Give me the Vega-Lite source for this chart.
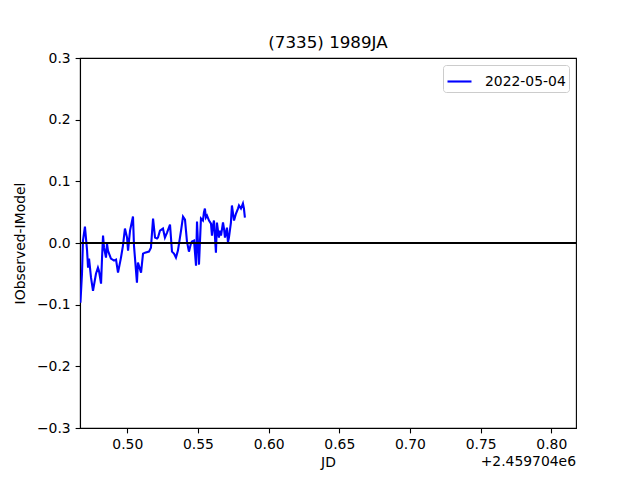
{
  "$schema": "https://vega.github.io/schema/vega-lite/v6.json",
  "autosize": {"type": "none"},
  "width": 496,
  "height": 370,
  "padding": {"left": 80, "top": 58, "right": 64, "bottom": 52},
  "background": "white",
  "title": {"text": "(7335) 1989JA", "font": "DejaVu Sans", "fontSize": 16.7, "fontWeight": "normal", "color": "black", "offset": -1},
  "config": {
    "view": {"stroke": "black", "strokeWidth": 1.1},
    "font": "DejaVu Sans",
    "axis": {
      "labelFont": "DejaVu Sans", "labelFontSize": 13.9, "labelColor": "black",
      "titleFont": "DejaVu Sans", "titleFontSize": 13.9, "titleFontWeight": "normal", "titleColor": "black",
      "domainColor": "black", "domainWidth": 1.1, "tickColor": "black", "tickWidth": 1.1, "tickSize": 4.9,
      "labelPadding": 4.9, "grid": false
    }
  },
  "datasets": {
    "obs": [
      {"jd": 0.4668, "resid": -0.097, "date": "2022-05-04"},
      {"jd": 0.4679, "resid": -0.0498, "date": "2022-05-04"},
      {"jd": 0.4686, "resid": 0.0039, "date": "2022-05-04"},
      {"jd": 0.4700, "resid": 0.0267, "date": "2022-05-04"},
      {"jd": 0.4715, "resid": -0.0124, "date": "2022-05-04"},
      {"jd": 0.4722, "resid": -0.0400, "date": "2022-05-04"},
      {"jd": 0.4729, "resid": -0.0254, "date": "2022-05-04"},
      {"jd": 0.4743, "resid": -0.0563, "date": "2022-05-04"},
      {"jd": 0.4757, "resid": -0.0774, "date": "2022-05-04"},
      {"jd": 0.4778, "resid": -0.0498, "date": "2022-05-04"},
      {"jd": 0.4792, "resid": -0.0400, "date": "2022-05-04"},
      {"jd": 0.4799, "resid": -0.0449, "date": "2022-05-04"},
      {"jd": 0.4814, "resid": -0.0660, "date": "2022-05-04"},
      {"jd": 0.4821, "resid": -0.0237, "date": "2022-05-04"},
      {"jd": 0.4828, "resid": 0.0120, "date": "2022-05-04"},
      {"jd": 0.4835, "resid": -0.0075, "date": "2022-05-04"},
      {"jd": 0.4849, "resid": -0.0237, "date": "2022-05-04"},
      {"jd": 0.4856, "resid": -0.0010, "date": "2022-05-04"},
      {"jd": 0.4863, "resid": -0.0124, "date": "2022-05-04"},
      {"jd": 0.4884, "resid": -0.0254, "date": "2022-05-04"},
      {"jd": 0.4906, "resid": -0.0286, "date": "2022-05-04"},
      {"jd": 0.4920, "resid": -0.0270, "date": "2022-05-04"},
      {"jd": 0.4934, "resid": -0.0481, "date": "2022-05-04"},
      {"jd": 0.4955, "resid": -0.0237, "date": "2022-05-04"},
      {"jd": 0.4969, "resid": -0.0042, "date": "2022-05-04"},
      {"jd": 0.4983, "resid": 0.0234, "date": "2022-05-04"},
      {"jd": 0.4998, "resid": 0.0088, "date": "2022-05-04"},
      {"jd": 0.5005, "resid": -0.0124, "date": "2022-05-04"},
      {"jd": 0.5019, "resid": 0.0202, "date": "2022-05-04"},
      {"jd": 0.5040, "resid": 0.0429, "date": "2022-05-04"},
      {"jd": 0.5047, "resid": -0.0042, "date": "2022-05-04"},
      {"jd": 0.5068, "resid": -0.0644, "date": "2022-05-04"},
      {"jd": 0.5075, "resid": -0.0319, "date": "2022-05-04"},
      {"jd": 0.5097, "resid": -0.0481, "date": "2022-05-04"},
      {"jd": 0.5111, "resid": -0.0172, "date": "2022-05-04"},
      {"jd": 0.5125, "resid": -0.0156, "date": "2022-05-04"},
      {"jd": 0.5153, "resid": -0.0140, "date": "2022-05-04"},
      {"jd": 0.5167, "resid": -0.0075, "date": "2022-05-04"},
      {"jd": 0.5182, "resid": 0.0397, "date": "2022-05-04"},
      {"jd": 0.5196, "resid": 0.0088, "date": "2022-05-04"},
      {"jd": 0.5210, "resid": 0.0072, "date": "2022-05-04"},
      {"jd": 0.5217, "resid": 0.0088, "date": "2022-05-04"},
      {"jd": 0.5231, "resid": 0.0202, "date": "2022-05-04"},
      {"jd": 0.5252, "resid": 0.0234, "date": "2022-05-04"},
      {"jd": 0.5266, "resid": 0.0088, "date": "2022-05-04"},
      {"jd": 0.5281, "resid": 0.0169, "date": "2022-05-04"},
      {"jd": 0.5302, "resid": 0.0299, "date": "2022-05-04"},
      {"jd": 0.5316, "resid": -0.0140, "date": "2022-05-04"},
      {"jd": 0.5330, "resid": -0.0172, "date": "2022-05-04"},
      {"jd": 0.5344, "resid": -0.0237, "date": "2022-05-04"},
      {"jd": 0.5358, "resid": -0.0124, "date": "2022-05-04"},
      {"jd": 0.5380, "resid": 0.0202, "date": "2022-05-04"},
      {"jd": 0.5394, "resid": 0.0429, "date": "2022-05-04"},
      {"jd": 0.5408, "resid": 0.0380, "date": "2022-05-04"},
      {"jd": 0.5422, "resid": 0.0023, "date": "2022-05-04"},
      {"jd": 0.5436, "resid": -0.0140, "date": "2022-05-04"},
      {"jd": 0.5450, "resid": -0.0010, "date": "2022-05-04"},
      {"jd": 0.5457, "resid": 0.0023, "date": "2022-05-04"},
      {"jd": 0.5472, "resid": 0.0039, "date": "2022-05-04"},
      {"jd": 0.5486, "resid": -0.0368, "date": "2022-05-04"},
      {"jd": 0.5493, "resid": 0.0348, "date": "2022-05-04"},
      {"jd": 0.5507, "resid": -0.0351, "date": "2022-05-04"},
      {"jd": 0.5521, "resid": 0.0397, "date": "2022-05-04"},
      {"jd": 0.5535, "resid": 0.0364, "date": "2022-05-04"},
      {"jd": 0.5542, "resid": 0.0494, "date": "2022-05-04"},
      {"jd": 0.5549, "resid": 0.0559, "date": "2022-05-04"},
      {"jd": 0.5556, "resid": 0.0413, "date": "2022-05-04"},
      {"jd": 0.5564, "resid": 0.0445, "date": "2022-05-04"},
      {"jd": 0.5578, "resid": 0.0364, "date": "2022-05-04"},
      {"jd": 0.5592, "resid": 0.0315, "date": "2022-05-04"},
      {"jd": 0.5599, "resid": 0.0120, "date": "2022-05-04"},
      {"jd": 0.5606, "resid": 0.0283, "date": "2022-05-04"},
      {"jd": 0.5613, "resid": 0.0364, "date": "2022-05-04"},
      {"jd": 0.5627, "resid": -0.0156, "date": "2022-05-04"},
      {"jd": 0.5634, "resid": 0.0332, "date": "2022-05-04"},
      {"jd": 0.5648, "resid": 0.0088, "date": "2022-05-04"},
      {"jd": 0.5656, "resid": 0.0202, "date": "2022-05-04"},
      {"jd": 0.5663, "resid": 0.0120, "date": "2022-05-04"},
      {"jd": 0.5677, "resid": 0.0332, "date": "2022-05-04"},
      {"jd": 0.5684, "resid": 0.0234, "date": "2022-05-04"},
      {"jd": 0.5691, "resid": 0.0088, "date": "2022-05-04"},
      {"jd": 0.5705, "resid": 0.0250, "date": "2022-05-04"},
      {"jd": 0.5712, "resid": 0.0007, "date": "2022-05-04"},
      {"jd": 0.5719, "resid": 0.0088, "date": "2022-05-04"},
      {"jd": 0.5733, "resid": 0.0332, "date": "2022-05-04"},
      {"jd": 0.5740, "resid": 0.0608, "date": "2022-05-04"},
      {"jd": 0.5755, "resid": 0.0364, "date": "2022-05-04"},
      {"jd": 0.5769, "resid": 0.0478, "date": "2022-05-04"},
      {"jd": 0.5783, "resid": 0.0559, "date": "2022-05-04"},
      {"jd": 0.5790, "resid": 0.0608, "date": "2022-05-04"},
      {"jd": 0.5804, "resid": 0.0559, "date": "2022-05-04"},
      {"jd": 0.5818, "resid": 0.0640, "date": "2022-05-04"},
      {"jd": 0.5825, "resid": 0.0559, "date": "2022-05-04"},
      {"jd": 0.5832, "resid": 0.0413, "date": "2022-05-04"}
    ],
    "zero": [{"level": 0}],
    "offset": [{"label": "+2.459704e6", "jd": 0.8175, "resid": -0.3}]
  },
  "layer": [
    {
      "data": {"name": "obs"},
      "mark": {"type": "line", "strokeWidth": 2.1, "clip": true},
      "encoding": {
        "x": {"field": "jd", "type": "quantitative", "title": "JD",
              "scale": {"domain": [0.4665, 0.8175], "nice": false, "zero": false},
              "axis": {"values": [0.5, 0.55, 0.6, 0.65, 0.7, 0.75, 0.8], "format": ".2f", "titlePadding": 4}},
        "y": {"field": "resid", "type": "quantitative", "title": "IObserved-IModel",
              "scale": {"domain": [-0.3, 0.3], "nice": false, "zero": false},
              "axis": {"values": [-0.3, -0.2, -0.1, 0, 0.1, 0.2, 0.3], "format": ".1f", "titlePadding": 9}},
        "color": {"field": "date", "type": "nominal", "title": null,
                  "scale": {"range": ["#0000ff"]},
                  "legend": {"orient": "top-right", "offset": 7, "padding": 3, "strokeColor": "#cccccc", "fillColor": "white", "cornerRadius": 3,
                             "symbolType": "stroke", "symbolStrokeWidth": 2.1, "symbolSize": 576,
                             "labelFont": "DejaVu Sans", "labelFontSize": 13.9, "labelColor": "black", "labelOffset": 12}}
      }
    },
    {
      "data": {"name": "zero"},
      "mark": {"type": "rule", "color": "black", "strokeWidth": 2},
      "encoding": {"y": {"field": "level", "type": "quantitative"}}
    },
    {
      "data": {"name": "offset"},
      "mark": {"type": "text", "align": "right", "baseline": "top", "dy": 27, "font": "DejaVu Sans", "fontSize": 13.9, "color": "black"},
      "encoding": {
        "x": {"field": "jd", "type": "quantitative"},
        "y": {"field": "resid", "type": "quantitative"},
        "text": {"field": "label"}
      }
    }
  ]
}
